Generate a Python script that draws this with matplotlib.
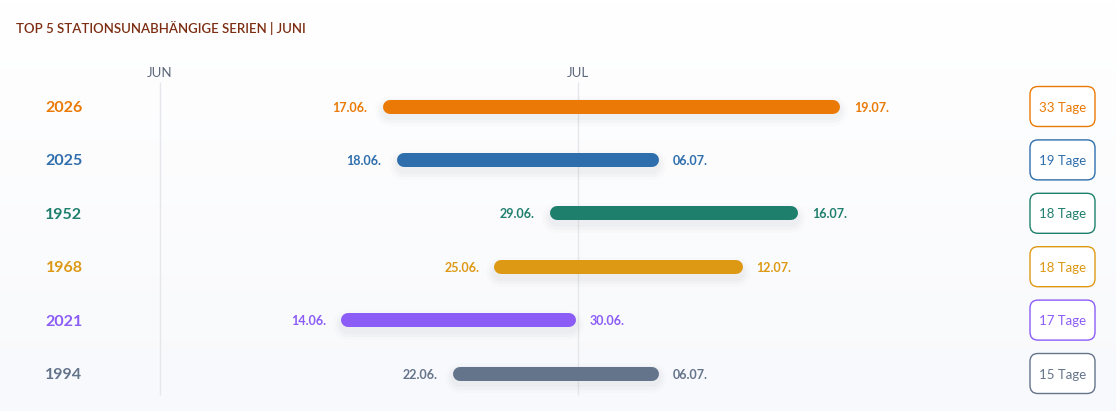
import matplotlib
matplotlib.use("Agg")
import matplotlib.pyplot as plt
import numpy as np
from matplotlib.patches import FancyBboxPatch
from matplotlib.colors import LinearSegmentedColormap

plt.rcParams["font.family"] = ["Lato", "DejaVu Sans"]

# ----- data -----
years = ["2026", "2025", "1952", "1968", "2021", "1994"]
start_dates = ["17.06.", "18.06.", "29.06.", "25.06.", "14.06.", "22.06."]
end_dates = ["19.07.", "06.07.", "16.07.", "12.07.", "30.06.", "06.07."]
n_days = [33, 19, 18, 18, 17, 15]
colors = ["#ea7a05", "#2f6eac", "#1f7f6d", "#dd9914", "#8b5cf6", "#64748b"]
month_labels = ["JUN", "JUL"]
month_starts = [0, 30]           # days since 1 June
title = "TOP 5 STATIONSUNABHÄNGIGE SERIEN | JUNI"


def day_offset(s):
    """'dd.mm.' -> days since 1 June (start of that day)."""
    d, m = int(s[0:2]), int(s[3:5])
    return (d - 1) if m == 6 else 30 + (d - 1)


# ----- layout -----
W, H = 1116, 411
PX_DAY = 418 / 30
ROW_PX = 53.4
ROW0_PX = 106.5

fig = plt.figure(figsize=(W / 100, H / 100), dpi=100)
fig.patch.set_facecolor("white")
ax = fig.add_axes([0, 0, 1, 1])
ax.set_xlim(-160 / PX_DAY, (W - 160) / PX_DAY)
ax.set_ylim((H - ROW0_PX) / ROW_PX, -ROW0_PX / ROW_PX)
ax.axis("off")

# soft background gradient
bg = LinearSegmentedColormap.from_list("bg", ["#ffffff", "#f8f9fc"])
ax.imshow(np.linspace(0, 1, 100).reshape(-1, 1), cmap=bg, aspect="auto",
          extent=[0, 1, 0, 1], transform=ax.transAxes, zorder=0)

fig.text(16 / W, 1 - 27 / H, title, color="#7c2d12", fontsize=9.5,
         fontweight="semibold", ha="left", va="center_baseline")

# month grid
for lab, x in zip(month_labels, month_starts):
    ax.vlines(x, -0.45, 5.41, color="#e5e7eb", linewidth=1, zorder=1)
    ax.text(x, -0.64, lab, color="#5b6678", fontsize=9.5, ha="center",
            va="center_baseline", zorder=2)

bar_lw = 14 * 0.72                # 14 px in points
cap = 7 / PX_DAY                  # round cap length in days
end_trim = 2.5 / PX_DAY
aspect = PX_DAY / ROW_PX

for i, (yr, s, e, n, c) in enumerate(zip(years, start_dates, end_dates,
                                         n_days, colors)):
    x0 = day_offset(s)
    x1 = day_offset(e) + 1 - end_trim

    # shadow
    for lw, a in [(30, 0.012), (24, 0.018), (18, 0.025)]:
        ax.plot([x0 + cap, x1 - cap], [i + 0.09, i + 0.09], color="#1e293b",
                linewidth=lw * 0.72, alpha=a, solid_capstyle="round", zorder=2)
    ax.plot([x0 + cap, x1 - cap], [i, i], color=c, linewidth=bar_lw,
            solid_capstyle="round", zorder=3)

    ax.annotate(s, (x0, i), xytext=(-11, 0), textcoords="offset points",
                ha="right", va="center_baseline", color=c, fontsize=9,
                fontweight="bold", zorder=4)
    ax.annotate(e, (x1, i), xytext=(10, 0), textcoords="offset points",
                ha="left", va="center_baseline", color=c, fontsize=9,
                fontweight="bold", zorder=4)

    ax.text(64 / W, i, yr, transform=ax.get_yaxis_transform(), color=c,
            fontsize=11.5, fontweight="bold", ha="center",
            va="center_baseline", zorder=4)

    # duration box
    bx0 = (1030 - 160) / PX_DAY
    bw = 65 / PX_DAY
    bh = 40 / ROW_PX
    box = FancyBboxPatch((bx0, i - bh / 2), bw, bh,
                         boxstyle=f"round,pad=0,rounding_size={8 / PX_DAY}",
                         mutation_aspect=aspect, facecolor="white",
                         edgecolor=c, linewidth=1, zorder=3)
    ax.add_patch(box)
    ax.text(bx0 + bw / 2, i, f"{n} Tage", color=c, fontsize=9.5,
            ha="center", va="center_baseline", zorder=4)

fig.savefig("out.png", dpi=100, facecolor=fig.get_facecolor())
